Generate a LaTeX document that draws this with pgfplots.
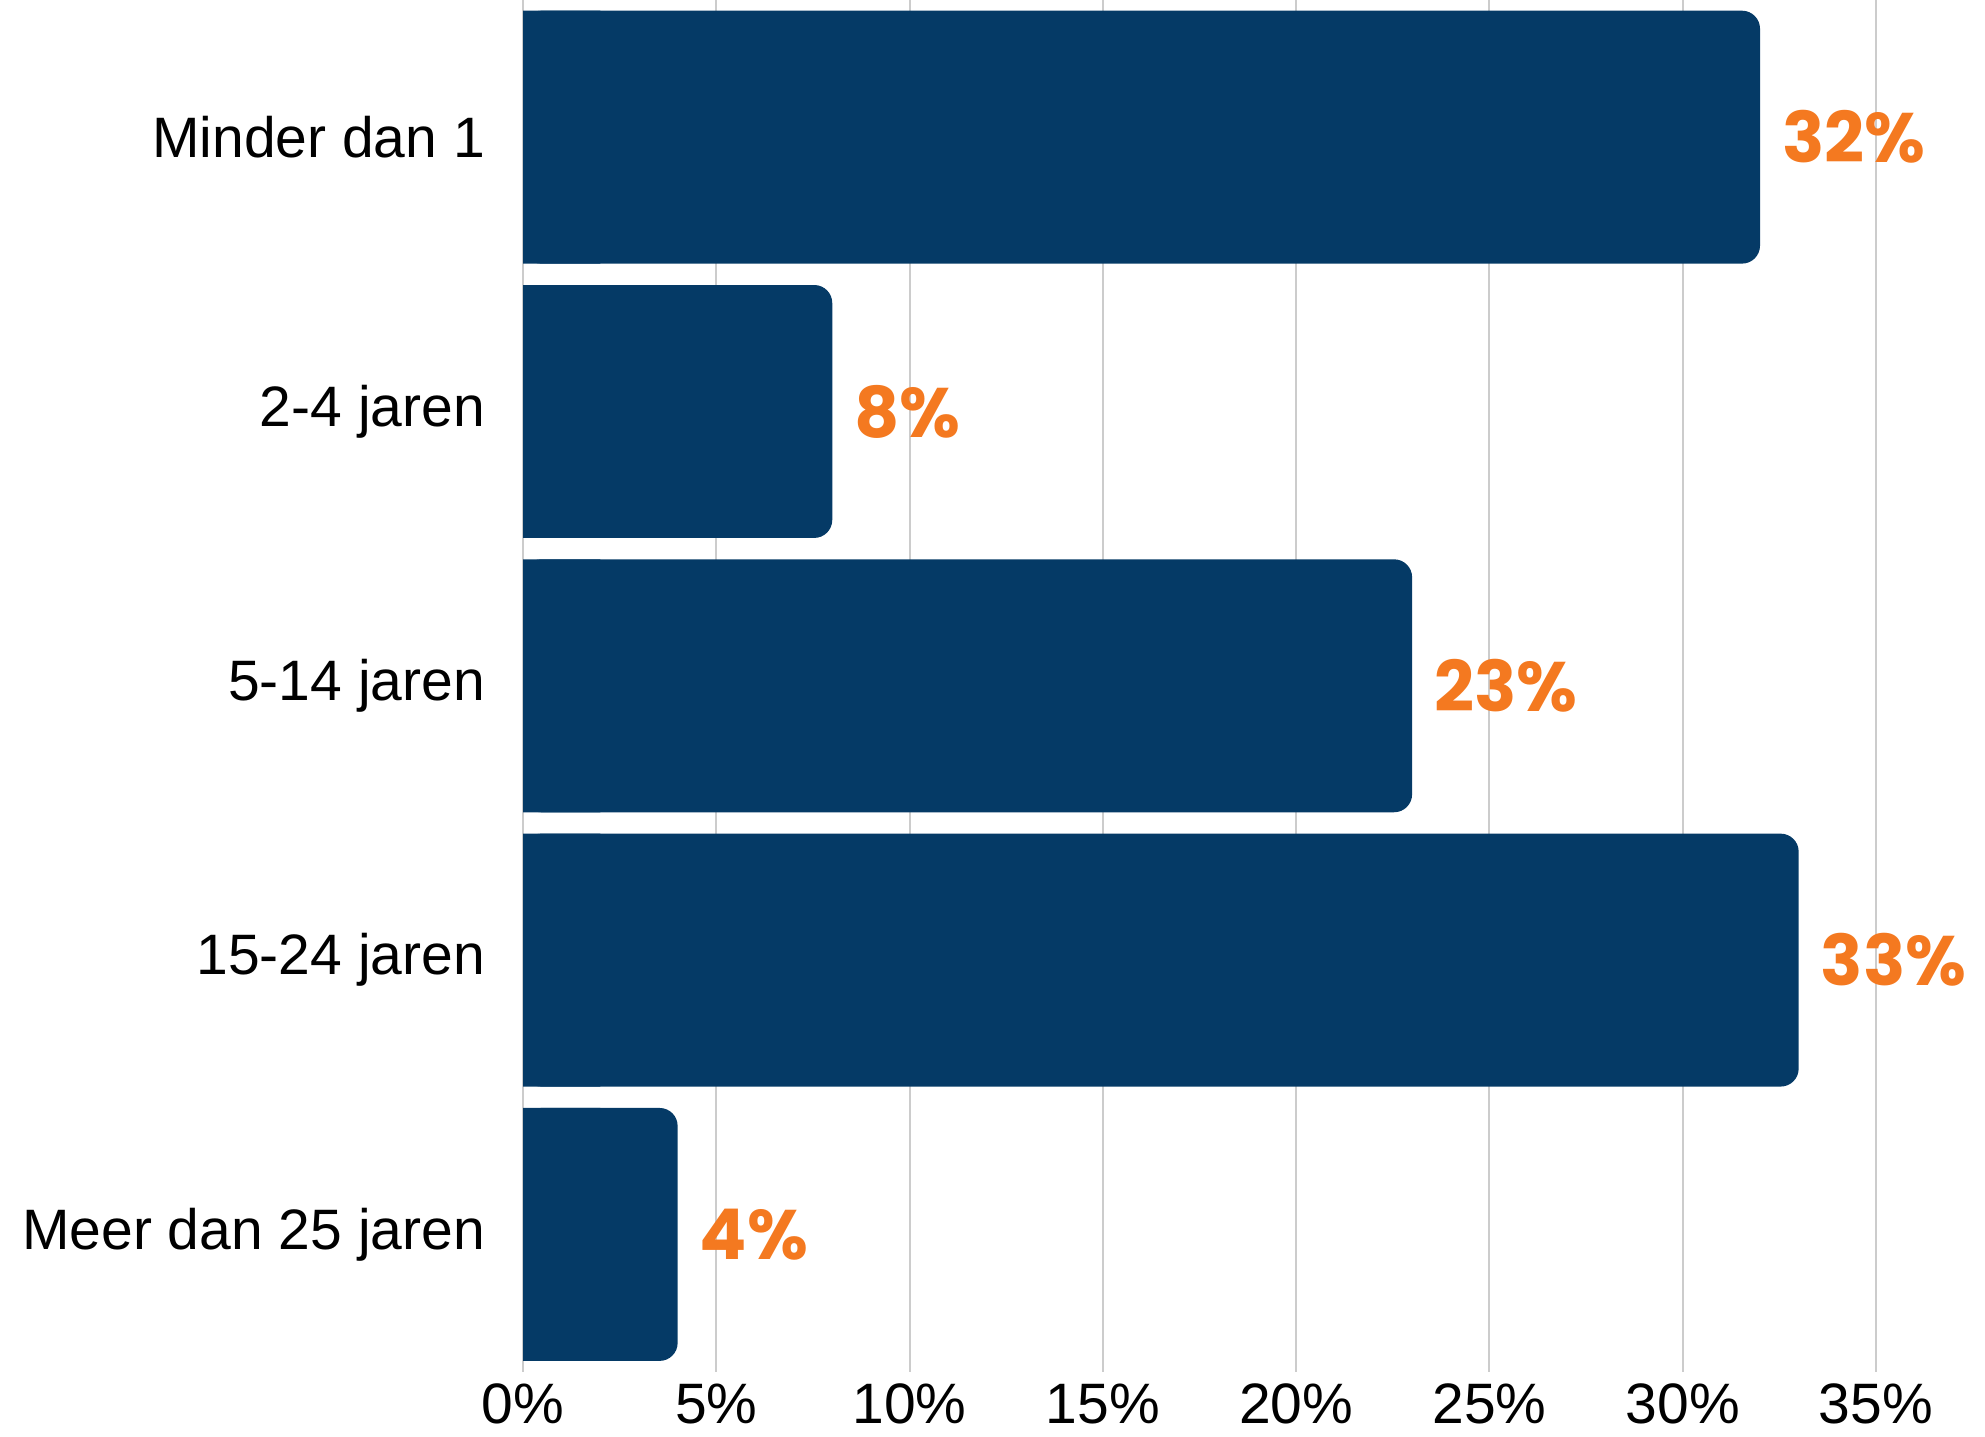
\documentclass[border=0pt]{standalone}
\usepackage{pgfplots}
\usepackage{pgfplotstable}
\pgfplotsset{compat=1.18}
\usepackage{fontspec}
\setmainfont{Liberation Sans}
\newfontfamily\valfont{Poppins}

\definecolor{navy}{HTML}{053A66}
\definecolor{orng}{HTML}{F47920}
\definecolor{gridc}{HTML}{CCCCCC}

\pgfplotstableread{
y v
0 32
1 8
2 23
3 33
4 4
}\data

\begin{document}
\begin{tikzpicture}
\begin{axis}[
  scale only axis,
  width=338.25pt, height=342.9pt,
  xmin=0, xmax=35, ymin=-0.5, ymax=4.5,
  y dir=reverse,
  xbar, bar width=0.922,
  xtick={0,5,...,35},
  xticklabels={0\%,5\%,10\%,15\%,20\%,25\%,30\%,35\%},
  ytick={0,...,4},
  yticklabels={Minder dan 1,2-4 jaren,5-14 jaren,15-24 jaren,Meer dan 25 jaren},
  xmajorgrids,
  grid style={gridc, line width=0.5pt},
  axis line style={draw=none},
  major tick length=0pt,
  tick label style={font=\fontsize{14.25}{16}\selectfont, text=black},
  xticklabel style={yshift=0.5pt},
  yticklabel style={xshift=-6pt},
  clip=false,
]
% rounded bars with the values
\addplot[fill=navy, draw=none, bar shift=0pt, rounded corners=4.5pt,
  point meta=x,
  nodes near coords={\pgfmathprintnumber[assume math mode=true]{\pgfplotspointmeta}\%},
  every node near coord/.style={font=\valfont\bfseries\fontsize{17.5}{18}\selectfont, text=orng, anchor=west, xshift=2pt}]
  table[x=v, y=y]{\data};
% square off the left ends of the bars
\addplot[fill=navy, draw=none, bar shift=0pt, forget plot]
  table[x expr={min(\thisrow{v},2)}, y=y]{\data};
\coordinate (bl) at (axis cs:-13.53,4.735);
\coordinate (tr) at (axis cs:37.82,-0.5);
\end{axis}
\pgfresetboundingbox
\useasboundingbox (bl) rectangle (tr);
\end{tikzpicture}
\end{document}
